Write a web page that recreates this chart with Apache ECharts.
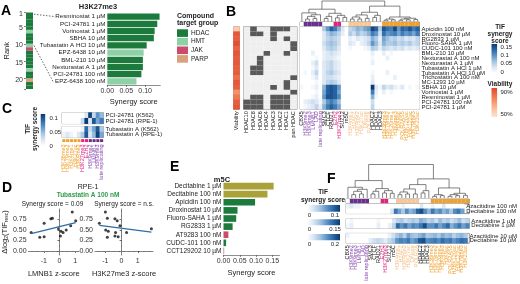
<!DOCTYPE html>
<html>
<head>
<meta charset="utf-8">
<script src="https://cdn.jsdelivr.net/npm/echarts@6.0.0/dist/echarts.min.js"></script>
<style>
  html, body { margin: 0; padding: 0; background: #fff; }
  #chart { width: 520px; height: 284px; }
</style>
</head>
<body>
<div id="chart"></div>
<script>
// ---------- data ----------
const targetGroups = ["HDAC", "HMT", "JAK", "PARP"];
const groupFill = { HDAC: "#1b7a3c", HMT: "#8fd1a7", JAK: "#cc4a6c", PARP: "#d9a27c", DNMT: "#a9a239", AURK: "#cf5a8a" };

// panel A
const rankGroups = ["HDAC","HDAC","HDAC","HDAC","HDAC","HMT","HDAC","HDAC","HDAC","HMT","JAK",
  "HDAC","HDAC","HDAC","HDAC","HDAC","HMT","HDAC","HDAC","PARP","HDAC","HDAC"];
const rankTicks = [1, 5, 10, 15, 20];
const h3Drugs = ["Resminostat 1 µM", "PCI-24781 1 µM", "Vorinostat 1 µM", "SBHA 10 µM", "Tubastatin A HCl 10 µM",
  "EPZ-6438 10 µM", "BML-210 10 µM", "Nexturastat A 1 µM", "PCI-24781 100 nM", "EPZ-6438 100 nM"];
const h3Scores = [0.138, 0.132, 0.125, 0.123, 0.104, 0.096, 0.094, 0.094, 0.090, 0.077];
const h3Groups = ["HDAC","HDAC","HDAC","HDAC","HDAC","HMT","HDAC","HDAC","HDAC","HMT"];
const scoreTicks = [0, 0.05, 0.10, 0.15];

// panel B
const bRows = ["Apicidin 100 nM", "Droxinostat 10 µM", "RG2833 1 µM", "Fluoro-SAHA 1 µM", "CUDC-101 100 nM",
  "BML-210 10 µM", "Nexturastat A 100 nM", "Nexturastat A 1 µM", "Tubastatin A HCl 1 µM", "Tubastatin A HCl 10 µM",
  "Trichostatin A 100 nM", "MC-1293 10 µM", "SBHA 10 µM", "Vorinostat 1 µM", "Resminostat 1 µM",
  "PCI-24781 100 nM", "PCI-24781 1 µM"];
const bViability = [58, 86, 84, 88, 83, 87, 85, 86, 84, 85, 80, 86, 84, 72, 78, 85, 87];
const hdacCols = ["HDAC10", "HDAC8", "HDAC6", "HDAC4", "HDAC3", "HDAC2", "HDAC1", "pan HDAC"];
const hdacTargets = [
  [0,1,0,0,1,1,1,0], [0,1,1,0,1,0,0,0], [0,0,0,0,1,0,1,0], [0,0,0,0,0,0,0,1], [0,0,0,0,0,0,0,1],
  [0,0,0,1,0,0,1,0], [0,0,1,0,0,0,0,0], [0,0,1,0,0,0,0,0], [0,1,1,0,0,0,0,0], [0,1,1,0,0,0,0,0],
  [0,0,0,0,0,0,0,1], [0,0,0,0,0,0,1,0], [0,0,0,0,1,0,1,0], [0,0,0,0,0,0,0,1], [0,1,1,0,1,1,1,0],
  [1,1,1,0,1,1,1,0], [1,1,1,0,1,1,1,0]];

const featLabels = ["CBX5", "H3K9me2", "H3K9me3", "LMNB1", "LAD", "late replicating", "SMC3", "CTCF", "RAD21",
  "EZH2", "H3K27me3", "SUZ12", "m5C", "H3K4me1", "H2AFZ", "H3K4me2", "H3K27ac", "DNase", "POLR2A",
  "HDAC2", "HDAC1", "HDAC3", "H3K36me3", "H3K79me2", "H4K20me1", "H3K4me3", "H3K9ac", "POLR2AS5",
  "H2BK120ac", "H3K122ac", "H3K79me3", "H3K23ac"];
const featGroups = ["none","lad","lad","lad","lad","lad","none","none","none","pc","pc","none","none",
  "enh","enh","enh","enh","enh","enh","none","none","none",
  "act","act","act","act","act","act","act","act","act","act"];
const groupBar = { none: "#ffffff", lad: "#6a2e8e", pc: "#e3227f", enh: "#f7c794", act: "#f0a02c" };
const groupText = { none: "#222222", lad: "#8a4bb0", pc: "#e3227f", enh: "#f5bf85", act: "#f0a02c" };

const bHeat = [
  [0, 0,0,0,0,0, .06,.10,.14, .12,.08, .03,0, .05,.06,.08,.07,.09,.10, .16,.14,.06, .15,.13,.12,.16,.10,.14,.13,.15,.12,.14],
  [0, 0,0,0,0,0, .03,.06,.08, .07,.05, .02,0, .06,.04,.07,.05,.06,.08, .12,.10,.04, .13,.10,.11,.12,.09,.12,.10,.11,.09,.12],
  [0, 0,0,0,0,0, .03,.05,.06, .05,.04, 0,0, .02,.01,.03,.02,.03,.04, .08,.06,.02, .09,.07,.05,.06,.04,.05,.03,.04,.03,.05],
  [0, 0,0,0,0,0, .04,.06,.07, .06,.04, 0,0, .03,.02,0,.02,.03,.05, .10,.07,.03, .08,.06,.06,.07,.05,.06,.05,.06,.04,.05],
  [0, 0,0,0,0,0, .03,.05,.06, .05,.03, 0,0, .01,0,0,0,.01,.02, .06,.05,.02, .05,.04,.03,.04,.03,.04,.02,.03,.02,.03],
  [0, 0,0,.02,0,0, .02,.03,.04, .03,.02, 0,0, 0,0,0,0,0,0, .02,0,0, .02,0,.01,0,0,0,0,0,0,0],
  [0, 0,0,0,.01,0, .02,.03,.03, .02,.01, 0,0, 0,0,0,0,0,0, .01,0,0, 0,.02,0,0,0,0,0,0,0,0],
  [0, 0,0,.02,.04,0, .03,.04,.05, .03,.02, 0,0, 0,0,0,0,0,0, .02,0,0, 0,0,0,0,0,0,0,0,0,0],
  [0, 0,0,.01,.03,0, .03,.04,.05, .03,.02, 0,0, 0,0,0,0,0,0, 0,0,0, 0,0,0,0,0,0,0,0,0,0],
  [0, .01,0,.02,.05,0, .03,.05,.06, .04,.03, 0,0, 0,0,0,0,0,0, .01,0,0, 0,.02,0,0,0,0,0,0,0,0],
  [0, 0,0,.01,.03,0, .03,.04,.04, .03,.02, 0,0, 0,0,0,0,0,0, .02,0,0, 0,0,0,.02,0,0,0,0,0,0],
  [0, 0,0,0,.01,0, .03,.05,.06, .05,.03, 0,0, 0,0,0,0,0,0, .03,0,0, 0,0,0,0,0,0,0,0,0,0],
  [.01, 0,0,.01,.02,0, .08,.14,.15, .14,.10, 0,0, 0,0,0,0,0,0, .17,.03,.01, .05,.03,.04,.02,.01,.03,0,.01,0,.01],
  [0, 0,0,0,.01,0, .09,.14,.15, .14,.09, 0,0, 0,0,0,0,0,0, .12,.02,0, .02,0,.01,0,0,0,0,0,0,0],
  [0, 0,0,.01,.02,0, .10,.15,.15, .14,.11, 0,0, 0,0,0,0,0,0, .08,.01,0, 0,0,0,0,0,0,0,0,0,0],
  [0, .02,.03,.04,.03,.01, .06,.10,.12, .10,.07, 0,0, 0,0,0,0,0,0, .04,0,0, 0,0,0,0,0,0,0,0,0,0],
  [0, .01,.02,.03,.05,.02, .08,.12,.14, .12,.09, 0,0, 0,0,0,0,0,0, .05,0,0, 0,0,0,0,0,0,0,0,0,0]];

// dendrogram merges: [child a, child b, height]; children >= 32 refer to earlier merges
const bMerges = [
  [1,2,.12], [3,4,.15], [32,33,.25], [34,5,.33], [0,35,.42], [6,7,.15], [37,8,.25], [9,10,.18],
  [11,12,.2], [39,40,.3], [38,41,.4], [36,42,.6],
  [13,14,.12], [15,16,.12], [44,45,.22], [17,18,.15], [46,47,.32], [19,20,.2], [49,21,.3], [48,50,.45],
  [22,23,.06], [24,25,.08], [52,53,.12], [26,27,.06], [28,29,.08], [55,56,.12], [30,31,.1], [57,58,.16],
  [54,59,.22], [51,60,.75], [43,61,1]];
const fMerges = [
  [1,2,.1], [3,4,.12], [32,33,.2], [34,5,.26], [0,35,.32], [6,7,.12], [37,8,.2], [9,10,.15],
  [11,12,.14], [39,40,.22], [38,41,.28], [36,42,.52],
  [13,14,.1], [15,16,.12], [44,45,.18], [17,18,.12], [46,47,.27], [19,20,.15], [49,21,.22], [48,50,.4],
  [22,23,.05], [24,25,.07], [52,53,.1], [26,27,.05], [28,29,.07], [55,56,.1], [30,31,.08], [57,58,.14],
  [54,59,.3], [51,60,.57], [43,61,1]];

// panel C
const cRows1 = ["PCI-24781 (K562)", "PCI-24781 (RPE-1)"];
const cRows2 = ["Tubastatin A (K562)", "Tubastatin A (RPE-1)"];
const cLabels = ["H3K36me3", "H3K79me2", "H3K4me1", "H3K27ac", "H3K4me3", "H3K27me3", "EZH2",
  "H3K9me2", "LMNB1", "H3K9me3", "late replicating"];
const cGroups = ["act","act","act","act","act","pc","pc","lad","lad","lad","lad"];
const cPci = [[0,0,0,0,0,0,.02,.11,.03,.07,.05], [0,0,0,0,0,.03,.12,.02,.10,.06,.08]];
const cTub = [[0,0,0,0,0,.01,.09,.03,.06,.10,.04], [.01,.02,.01,0,.02,.04,.10,.02,.05,.11,.06]];

// panel D
const dTif = [.93, .78, .77, .72, .66, .60, .53, .50, .47, .44, .44, .36, .34, .33];
const dLmnb1 = [.82, -.45, -.55, 1.04, -.98, .72, -.06, .43, .10, .23, -1.81, .06, -.98, -1.26];
const dH3k27 = [-1.0, -.88, -.41, -.27, -1.37, -.10, 1.84, -.98, -.82, -.37, .31, -.41, -.21, -.88];
const zTicks = [-1, 0, 1];
const tifTicks = [0, 0.25, 0.5, 0.75];

// panel E
const eDrugs = ["Decitabine 1 µM", "Decitabine 100 nM", "Apicidin 100 nM", "Droxinostat 10 µM", "Fluoro-SAHA 1 µM",
  "RG2833 1 µM", "AT9283 100 nM", "CUDC-101 100 nM", "CCT129202 10 µM"];
const eScores = [0.154, 0.135, 0.097, 0.043, 0.039, 0.028, 0.015, 0.008, 0.002];
const eGroups = ["DNMT","DNMT","HDAC","HDAC","HDAC","HDAC","JAK","HDAC","AURK"];

// panel F
const fBlocks = [
  { rows: ["Azacitidine 100 nM", "Decitabine 100 nM"], max: 0.11, tick: "0.1", values: [
    [.01,.02,.01,.01,0,0, 0,0,0, 0,0, 0,0, 0,0,.01,0,0,0, 0,.02,0, 0,.01,0,0,.02,0,0,0,0,0],
    [0,0,0,0,0,0, 0,0,0, 0,0, 0,.02, .08,.06,.04,.07,.05,.06, .09,.10,.07, .05,.08,.06,.07,.05,.06,.04,.07,.08,.06]] },
  { rows: ["Azacitidine 1 µM", "Decitabine 1 µM"], max: 0.165, tick: "0.15", values: [
    [0,.01,0,0,0,0, 0,0,.01, 0,0, 0,.03, .05,.06,.04,.05,.06,.05, .08,.07,.05, .06,.04,.07,.05,.06,.04,.05,.07,.04,.05],
    [.01,.02,0,0,0,0, 0,0,.02, 0,0, .02,.05, .13,.10,.12,.09,.11,.10, .12,.15,.10, .10,.12,.09,.11,.13,.08,.10,.12,.09,.11]] },
  { rows: ["Azacitidine 10 µM", "Decitabine 10 µM"], max: 0.22, tick: "0.2", values: [
    [.02,0,0,0,0,0, 0,0,0, 0,0, .02,.05, .08,.10,.07,.12,.09,.08, .10,.12,.08, .09,.10,.08,.11,.09,.10,.07,.09,.10,.08],
    [0,0,0,0,0,0, .03,.05,.06, .05,.03, .06,.08, .13,.15,.14,.16,.12,.14, .19,.20,.14, .15,.16,.14,.17,.15,.16,.13,.15,.17,.16]] }];

// ---------- layout ----------
const FONT = "'Liberation Sans', Arial, sans-serif";
const NARROW = "'Liberation Sans Narrow', 'Liberation Sans', sans-serif";
const BLUES = ["#ffffff", "#d8e5f2", "#a2c3e1", "#5d94c7", "#2967a6", "#0a3a72"];
const VIAB = ["#fde5d0", "#fbc4a0", "#f59c72", "#ee7049", "#e2462e"];

const L = {
  aRank: { left: 26, top: 12.5, width: 7, height: 76.5 },
  aBar: { left: 107.3, top: 13, width: 53, height: 72 },
  bVia: { left: 233.5, top: 26.7, width: 6, height: 82.6 },
  bHdac: { left: 243.5, top: 26.7, width: 53.5, height: 82.6 },
  bHeat: { left: 300, top: 26.7, width: 119.5, height: 82.6 },
  bDen: { left: 300, top: 1, width: 119.5, height: 20.5 },
  bGrp: { left: 300, top: 22, width: 119.5, height: 4.2 },
  c1: { left: 62, top: 112.7, width: 41.5, height: 11 },
  c2: { left: 62, top: 126.5, width: 41.5, height: 11 },
  cGrp: { left: 62, top: 138.8, width: 41.5, height: 3.6 },
  dL: { left: 26, top: 209, width: 53, height: 46 },
  dR: { left: 95, top: 209, width: 58, height: 46 },
  e: { left: 223.5, top: 182, width: 56, height: 73 },
  fDen: { left: 346, top: 164.5, width: 123.3, height: 33.5 },
  fGrp: { left: 346, top: 199, width: 123.3, height: 4.2 },
  f1: { left: 346, top: 204, width: 123.3, height: 9.6 },
  f2: { left: 346, top: 218.6, width: 123.3, height: 9.6 },
  f3: { left: 346, top: 233.4, width: 123.3, height: 9.8 }
};

const chart = echarts.init(document.getElementById("chart"));
const grids = [], xAxes = [], yAxes = [], series = [], visualMaps = [];

function addGrid(key, xa, ya) {
  const g = L[key];
  grids.push({ left: g.left, top: g.top, width: g.width, height: g.height });
  const i = grids.length - 1;
  xAxes.push(Object.assign({ gridIndex: i }, xa));
  yAxes.push(Object.assign({ gridIndex: i }, ya));
  return i;
}
function addSeries(s) { series.push(s); return series.length - 1; }
function bareCat(data, extra) {
  return Object.assign({ type: "category", data: data, axisLine: { show: false }, axisTick: { show: false },
    axisLabel: { show: false }, splitLine: { show: false } }, extra || {});
}
function bareVal(min, max) {
  return { type: "value", min: min, max: max, axisLine: { show: false }, axisTick: { show: false },
    axisLabel: { show: false }, splitLine: { show: false } };
}
// coloured cells on category axes; list items are [x index, y index, colour]
function cells(gi, list, gap) {
  return {
    type: "custom", xAxisIndex: gi, yAxisIndex: gi, silent: true, encode: { x: 0, y: 1 },
    data: list.map(c => [c[0], c[1]]),
    renderItem: function (params, api) {
      const p = api.coord([api.value(0), api.value(1)]);
      const s = api.size([1, 1]);
      const g = gap || 0;
      return { type: "rect", shape: { x: p[0] - s[0] / 2 + g, y: p[1] - s[1] / 2 + g, width: s[0] - 2 * g, height: s[1] - 2 * g },
        style: { fill: list[params.dataIndex][2] } };
    }
  };
}
function dendro(gi, merges, n) {
  const pos = [];
  for (let i = 0; i < n; i++) pos.push([i, 0]);
  const segs = merges.map(m => {
    const a = pos[m[0]], b = pos[m[1]];
    pos.push([(a[0] + b[0]) / 2, m[2]]);
    return [a[0], a[1], b[0], b[1], m[2]];
  });
  return {
    type: "custom", xAxisIndex: gi, yAxisIndex: gi, silent: true, encode: { x: 0, y: 1 }, data: segs,
    renderItem: function (params, api) {
      const s = segs[params.dataIndex];
      return { type: "polyline", shape: { points: [api.coord([s[0], s[1]]), api.coord([s[0], s[4]]),
        api.coord([s[2], s[4]]), api.coord([s[2], s[3]])] },
        style: { stroke: "#4d4d4d", lineWidth: 0.7, fill: null } };
    }
  };
}
function heat(gi, rows) {
  const d = [];
  rows.forEach((r, y) => r.forEach((v, x) => d.push([x, y, v])));
  return addSeries({ type: "heatmap", xAxisIndex: gi, yAxisIndex: gi, data: d, silent: true, emphasis: { disabled: true } });
}
const featColor = v => groupText[featGroups[featLabels.indexOf(v)]];
const smallLabel = { fontSize: 7, color: "#333", fontFamily: FONT };
const rowLabels = (data, extra) => Object.assign({ type: "category", data: data, inverse: true, position: "right",
  axisLine: { show: false }, axisTick: { show: false },
  axisLabel: { interval: 0, fontSize: 6, margin: 2, color: "#222", fontFamily: NARROW } }, extra || {});
const colLabels = (data, colorFn) => ({ type: "category", data: data, axisLine: { show: false }, axisTick: { show: false },
  axisLabel: { interval: 0, rotate: 90, fontSize: 5.5, margin: 2, fontFamily: NARROW, color: colorFn } });
function scoreAxis(max, gap) {
  const ticks = scoreTicks.filter(t => t <= max);
  return {
    type: "value", min: 0, max: max, splitLine: { show: false },
    axisLine: { show: true, lineStyle: { color: "#444", width: 0.6 } },
    axisTick: { show: true, length: 2, customValues: ticks, lineStyle: { color: "#444", width: 0.6 } },
    axisLabel: Object.assign({ margin: 3, customValues: ticks, formatter: v => v.toFixed(2) }, smallLabel),
    name: "Synergy score", nameLocation: "middle", nameGap: gap, nameTextStyle: { fontSize: 7.5, color: "#222", fontFamily: FONT }
  };
}

// ---------- panel A ----------
const giRank = addGrid("aRank", bareCat(["r"]), {
  type: "category", data: rankGroups.map((g, i) => String(i + 1)), inverse: true,
  axisLine: { show: false },
  axisTick: { show: true, length: 2, interval: i => rankTicks.includes(i + 1), lineStyle: { color: "#333", width: 0.6 } },
  axisLabel: Object.assign({ interval: i => rankTicks.includes(i + 1), margin: 3 }, smallLabel),
  name: "Rank", nameLocation: "middle", nameRotate: 90, nameGap: 15,
  nameTextStyle: { fontSize: 7.5, color: "#222", fontFamily: FONT }
});
addSeries(cells(giRank, rankGroups.map((g, i) => [0, i, groupFill[g]])));

const giABar = addGrid("aBar", scoreAxis(0.14, 13), {
  type: "category", data: h3Drugs, inverse: true, axisLine: { show: false }, axisTick: { show: false },
  axisLabel: { interval: 0, margin: 2, fontSize: 6.2, color: "#222", fontFamily: FONT }
});
addSeries({ type: "bar", xAxisIndex: giABar, yAxisIndex: giABar, barCategoryGap: "12%", silent: true,
  data: h3Scores.map((v, i) => ({ value: v, itemStyle: { color: groupFill[h3Groups[i]] } })) });

// ---------- panel B ----------
const giVia = addGrid("bVia", colLabels(["Viability"], "#111"), bareCat(bRows, { inverse: true }));
const sVia = addSeries({ type: "heatmap", xAxisIndex: giVia, yAxisIndex: giVia, silent: true, emphasis: { disabled: true },
  data: bViability.map((v, i) => [0, i, v]) });
visualMaps.push({ type: "continuous", show: false, seriesIndex: sVia, min: 50, max: 90, inRange: { color: VIAB } });

const giHdac = addGrid("bHdac", colLabels(hdacCols, "#111"), bareCat(bRows, { inverse: true }));
const hdacCells = [];
hdacTargets.forEach((r, y) => r.forEach((v, x) => hdacCells.push([x, y, v ? "#595959" : "#efefef"])));
addSeries(cells(giHdac, hdacCells));

const giBHeat = addGrid("bHeat", colLabels(featLabels, featColor), rowLabels(bRows));
const sBHeat = heat(giBHeat, bHeat);
visualMaps.push({ type: "continuous", show: false, seriesIndex: sBHeat, min: 0, max: 0.17, inRange: { color: BLUES } });

const giBDen = addGrid("bDen", bareVal(-0.5, featLabels.length - 0.5), bareVal(0, 1));
addSeries(dendro(giBDen, bMerges, featLabels.length));
const giBGrp = addGrid("bGrp", bareCat(featLabels), bareCat(["g"]));
addSeries(cells(giBGrp, featGroups.map((g, i) => [i, 0, groupBar[g]])));

// ---------- panel C ----------
const giC1 = addGrid("c1", bareCat(cLabels), rowLabels(cRows1));
const sC1 = heat(giC1, cPci);
const giC2 = addGrid("c2", bareCat(cLabels), rowLabels(cRows2));
const sC2 = heat(giC2, cTub);
visualMaps.push({ type: "continuous", show: false, seriesIndex: [sC1, sC2], min: 0, max: 0.115, inRange: { color: BLUES } });
const giCGrp = addGrid("cGrp", colLabels(cLabels, v => groupText[cGroups[cLabels.indexOf(v)]]), bareCat(["g"]));
addSeries(cells(giCGrp, cGroups.map((g, i) => [i, 0, groupBar[g]]), 0.35));

// ---------- panel D ----------
function fit(xs, ys) {
  const n = xs.length, mx = xs.reduce((a, b) => a + b) / n, my = ys.reduce((a, b) => a + b) / n;
  let sxy = 0, sxx = 0;
  xs.forEach((x, i) => { sxy += (x - mx) * (ys[i] - my); sxx += (x - mx) * (x - mx); });
  const b = sxy / sxx;
  return x => my + b * (x - mx);
}
function scatterPanel(key, xs, xmin, xmax, xname, yname) {
  const axisLine = { show: true, lineStyle: { color: "#333", width: 0.7 } };
  const tick = { show: true, length: 2, lineStyle: { color: "#333", width: 0.7 } };
  const gi = addGrid(key, {
    type: "value", min: xmin, max: xmax, splitLine: { show: false }, axisLine: axisLine,
    axisTick: Object.assign({ customValues: zTicks }, tick),
    axisLabel: Object.assign({ customValues: zTicks, margin: 3 }, smallLabel),
    name: xname, nameLocation: "middle", nameGap: 15, nameTextStyle: { fontSize: 7.5, color: "#222", fontFamily: FONT }
  }, Object.assign({
    type: "value", min: -0.095, max: 1.0, splitLine: { show: false }, axisLine: axisLine,
    axisTick: Object.assign({ customValues: tifTicks }, tick),
    axisLabel: Object.assign({ customValues: tifTicks, margin: 2, formatter: v => v.toFixed(2) }, smallLabel)
  }, yname || {}));
  const f = fit(xs, dTif);
  const lo = Math.min.apply(null, xs), hi = Math.max.apply(null, xs);
  addSeries({ type: "scatter", xAxisIndex: gi, yAxisIndex: gi, silent: true, symbolSize: 3, itemStyle: { color: "#111" },
    data: xs.map((x, i) => [x, dTif[i]]),
    markLine: { silent: true, symbol: ["none", "none"], label: { show: false },
      lineStyle: { type: [3, 2], color: "#8a8a8a", width: 0.8 }, data: [{ xAxis: 0 }, { yAxis: 0 }] } });
  addSeries({ type: "line", xAxisIndex: gi, yAxisIndex: gi, silent: true, symbol: "none",
    lineStyle: { color: "#2d6da5", width: 1.3 }, data: [[lo, f(lo)], [hi, f(hi)]] });
  return gi;
}
scatterPanel("dL", dLmnb1, -1.98, 1.25, "LMNB1 z-score", {
  name: "{a|Δlog}{s|2}{a|(TIF}{s|resc}{a|)}", nameLocation: "middle", nameRotate: 90, nameGap: 19,
  nameTextStyle: { fontFamily: FONT, color: "#222", rich: { a: { fontSize: 7.5, fontFamily: FONT }, s: { fontSize: 5, fontFamily: FONT, verticalAlign: "bottom" } } }
});
scatterPanel("dR", dH3k27, -1.64, 1.94, "H3K27me3 z-score");

// ---------- panel E ----------
const giE = addGrid("e", scoreAxis(0.172, 14), {
  type: "category", data: eDrugs, inverse: true, axisLine: { show: false }, axisTick: { show: false },
  axisLabel: { interval: 0, margin: 2, fontSize: 6.5, color: "#222", fontFamily: FONT }
});
addSeries({ type: "bar", xAxisIndex: giE, yAxisIndex: giE, barCategoryGap: "18%", silent: true,
  data: eScores.map((v, i) => ({ value: v, itemStyle: { color: groupFill[eGroups[i]] } })) });

// ---------- panel F ----------
const giFDen = addGrid("fDen", bareVal(-0.5, featLabels.length - 0.5), bareVal(0, 1));
addSeries(dendro(giFDen, fMerges, featLabels.length));
const giFGrp = addGrid("fGrp", bareCat(featLabels), bareCat(["g"]));
addSeries(cells(giFGrp, featGroups.map((g, i) => [i, 0, groupBar[g]])));
["f1", "f2", "f3"].forEach((key, k) => {
  const blk = fBlocks[k];
  const xa = k === 2 ? colLabels(featLabels, featColor) : bareCat(featLabels);
  const gi = addGrid(key, xa, rowLabels(blk.rows));
  const s = heat(gi, blk.values);
  visualMaps.push({ type: "continuous", show: false, seriesIndex: s, min: 0, max: blk.max, inRange: { color: BLUES } });
});

chart.setOption({
  animation: false,
  backgroundColor: "#ffffff",
  textStyle: { fontFamily: FONT },
  grid: grids, xAxis: xAxes, yAxis: yAxes, visualMap: visualMaps, series: series
});

// ---------- annotations ----------
const g = [];
const txt = (x, y, s, o) => ({ type: "text", x: x, y: y, silent: true,
  style: Object.assign({ text: s, fontSize: 7, fontFamily: FONT, fill: "#222", align: "left", verticalAlign: "middle" }, o || {}) });
const bold = (x, y, s, size, o) => txt(x, y, s, Object.assign({ fontWeight: "bold", fontSize: size, align: "center" }, o || {}));
const letter = (x, y, s) => txt(x, y, s, { fontWeight: "bold", fontSize: 14, fill: "#000" });
const grad = (vertical, colors) => ({ type: "linear", x: 0, y: 0, x2: vertical ? 0 : 1, y2: vertical ? 1 : 0,
  colorStops: colors.map((c, i) => ({ offset: i / (colors.length - 1), color: c })) });
const border = key => ({ type: "rect", silent: true, shape: { x: L[key].left, y: L[key].top, width: L[key].width, height: L[key].height },
  style: { fill: null, stroke: "#6b6b6b", lineWidth: 0.7 } });

[["A", 1, 11], ["B", 226, 12], ["C", 2, 109], ["D", 2, 188], ["E", 170, 167], ["F", 327, 179]]
  .forEach(p => g.push(letter(p[1], p[2], p[0])));

// A: title, legend, connectors
g.push(bold(98, 7, "H3K27me3", 7.5));
g.push(bold(177, 16, "Compound", 7, { align: "left" }), bold(177, 23.5, "target group", 7, { align: "left" }));
targetGroups.forEach((name, i) => {
  g.push({ type: "rect", silent: true, shape: { x: 177, y: 29.3 + i * 8.6, width: 11, height: 7.6 }, style: { fill: groupFill[name] } });
  g.push(txt(191, 33.1 + i * 8.6, name, { fontSize: 6.5 }));
});
const stripRight = L.aRank.left + L.aRank.width;
[[0, 0, 55], [9, 9, 53]].forEach(c => {
  const r = chart.convertToPixel({ gridIndex: giRank }, [0, c[0]]);
  const b = chart.convertToPixel({ gridIndex: giABar }, [0, c[1]]);
  g.push({ type: "line", silent: true, shape: { x1: stripRight + 1, y1: r[1], x2: c[2], y2: b[1] },
    style: { stroke: "#444", lineWidth: 0.8, lineDash: [1.5, 1.5] } });
});

// B legends and borders
const lgX = 491.5, lgC = 500;
g.push(bold(lgC, 27, "TIF", 6.5), bold(lgC, 34, "synergy", 6.5), bold(lgC, 41, "score", 6.5));
g.push({ type: "rect", silent: true, shape: { x: lgX, y: 44, width: 5.6, height: 29 }, style: { fill: grad(true, BLUES.slice().reverse()) } });
[[0.15, "0.15"], [0.1, "0.1"], [0.05, "0.05"], [0, "0"]].forEach(t => g.push(txt(lgX + 9, 72 - t[0] / 0.17 * 28, t[1], { fontSize: 6 })));
g.push(bold(lgC, 84, "Viability", 6.5));
g.push({ type: "rect", silent: true, shape: { x: lgX, y: 88, width: 5.6, height: 29 }, style: { fill: grad(true, VIAB.slice().reverse()) } });
g.push(txt(lgX + 9, 92.5, "90%", { fontSize: 6 }), txt(lgX + 9, 114.5, "50%", { fontSize: 6 }));
["bVia", "bHdac", "bHeat", "bGrp", "c1", "c2", "fGrp", "f1", "f2", "f3"].forEach(k => g.push(border(k)));

// C legend
g.push(bold(28, 129, "TIF", 6.5, { }), bold(35, 129, "synergy score", 6.5));
g[g.length - 2].rotation = Math.PI / 2; g[g.length - 1].rotation = Math.PI / 2;
g.push({ type: "rect", silent: true, shape: { x: 40.7, y: 114, width: 4.5, height: 32 }, style: { fill: grad(true, BLUES.slice().reverse()) } });
[[0.1, "0.1"], [0.05, "0.05"], [0, "0"]].forEach(t => g.push(txt(49.5, 146 - t[0] / 0.115 * 32, t[1], { fontSize: 6 })));

// D texts
const dlc = L.dL.left + L.dL.width / 2, drc = L.dR.left + L.dR.width / 2;
g.push(txt(88, 187.5, "RPE-1", { align: "center", fontSize: 7 }));
g.push(bold(88, 195.5, "Tubastatin A 100 nM", 6.5, { fill: "#2e9b4a" }));
g.push(txt(dlc, 204, "Synergy score = 0.09", { align: "center", fontSize: 6.5 }));
g.push(txt(drc, 204, "Synergy score = n.s.", { align: "center", fontSize: 6.5 }));

// E title
g.push(bold(222, 179.5, "m5C", 7.5));

// F legend
g.push(bold(323, 192.7, "TIF", 6.5), bold(323, 200, "synergy score", 6.5));
[[205, 6.7, 215.5], [219.3, 5.9, 229.8], [234, 6.3, 244.5]].forEach((b, k) => {
  g.push({ type: "rect", silent: true, shape: { x: 307, y: b[0], width: 33, height: b[1] }, style: { fill: grad(false, BLUES) } });
  g.push(txt(309.5, b[2], "0", { align: "center", fontSize: 6 }), txt(335, b[2], fBlocks[k].tick, { align: "center", fontSize: 6 }));
});

chart.setOption({ graphic: g });
</script>
</body>
</html>
